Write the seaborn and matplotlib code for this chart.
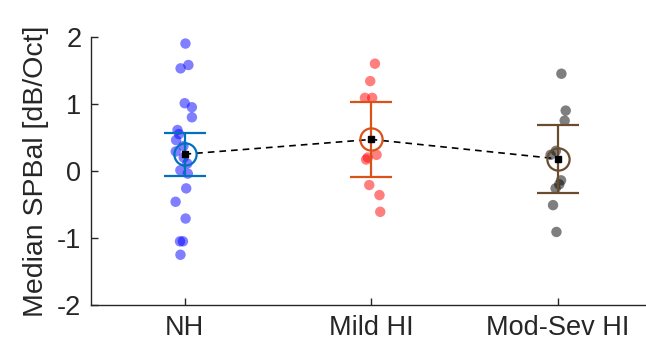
import numpy as np
import pandas as pd
import matplotlib
matplotlib.use("Agg")
import matplotlib.pyplot as plt
import seaborn as sns

categories = ["NH", "Mild HI", "Mod-Sev HI"]
nh_vals = [1.90, 1.58, 1.53, 1.01, 0.95, 0.80, 0.61, 0.55, 0.46, 0.37, 0.29,
           0.20, 0.11, 0.01, -0.04, -0.26, -0.46, -0.71, -1.05, -1.05, -1.25]
mild_vals = [1.60, 1.34, 1.09, 1.09, 0.24, 0.20, 0.17, -0.21, -0.36, -0.61]
modsev_vals = [1.45, 0.90, 0.75, 0.30, 0.24, -0.14, -0.20, -0.26, -0.51, -0.91]
medians = [0.25, 0.47, 0.18]
errs = [0.32, 0.555, 0.51]
ytick_vals = [-2, -1, 0, 1, 2]
ytick_labels = ["-2", "-1", "0", "1", "2"]

point_colors = ["#0000ff", "#ff0000", "#000000"]
bar_colors = ["#0072BD", "#D95319", "#6b4c2e"]

df = pd.DataFrame({
    "group": ["NH"] * len(nh_vals) + ["Mild HI"] * len(mild_vals) + ["Mod-Sev HI"] * len(modsev_vals),
    "value": nh_vals + mild_vals + modsev_vals,
})

sns.set_style("white")
plt.rcParams["font.family"] = ["Liberation Sans", "DejaVu Sans"]

fig = plt.figure(figsize=(6.46, 3.51), dpi=100)
ax = fig.add_axes([0.141, 0.131, 0.859, 0.764])

np.random.seed(3)
sns.stripplot(data=df, x="group", y="value", hue="group", order=categories,
              hue_order=categories, palette=point_colors, alpha=0.5, size=7.5,
              jitter=0.05, linewidth=0, legend=False, ax=ax, zorder=2)

xs = np.arange(len(categories))
ax.plot(xs, medians, ls=(0, (4, 3)), color="black", lw=1.2, zorder=3)
for i in range(len(categories)):
    ax.errorbar(xs[i], medians[i], yerr=errs[i], color=bar_colors[i], lw=1.6,
                capsize=15, capthick=1.6, marker="o", ms=16, mfc="none",
                mec=bar_colors[i], mew=1.6, zorder=4)
    ax.plot(xs[i], medians[i], marker="s", ms=4.5, color="black", zorder=5)

ax.set_xlim(-0.5, 2.47)
ax.set_ylim(-2, 2)
ax.set_yticks(ytick_vals)
ax.set_yticklabels(ytick_labels)
ax.set_xticks(xs)
ax.set_xticklabels(categories)
ax.set_xlabel("")
ax.set_ylabel("Median SPBal [dB/Oct]", fontsize=20.5, labelpad=6)
ax.tick_params(axis="both", labelsize=19.5, direction="in", length=5, width=1,
               colors="#262626", pad=7, bottom=True, left=True)
for s in ["top", "right"]:
    ax.spines[s].set_visible(False)
for s in ["left", "bottom"]:
    ax.spines[s].set_color("#262626")
    ax.spines[s].set_linewidth(1.0)

fig.savefig("out.png", dpi=100)
